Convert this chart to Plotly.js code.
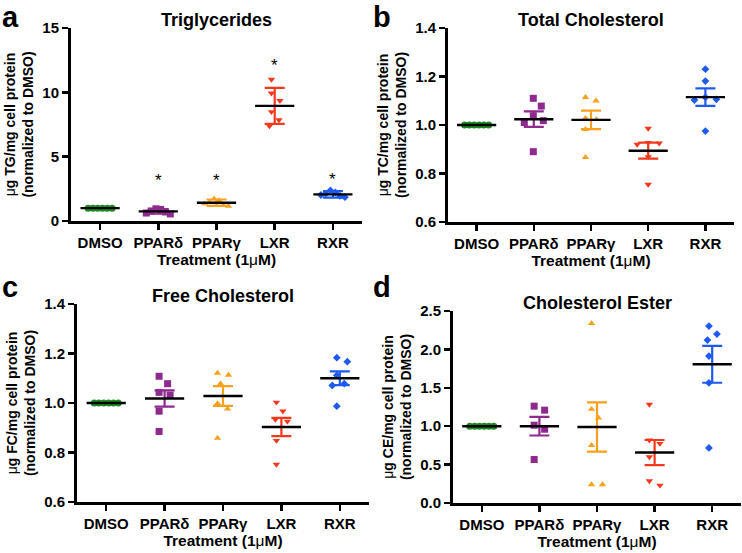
<!DOCTYPE html>
<html><head><meta charset="utf-8">
<script src="https://cdn.plot.ly/plotly-3.0.1.min.js"></script>
<style>html,body{margin:0;padding:0;background:#fff}#chart{width:742px;height:553px}</style>
</head><body><div id="chart"></div>
<script>
// ---------- data ----------
const categories = ['DMSO', 'PPARδ', 'PPARγ', 'LXR', 'RXR'];

// a: Triglycerides (error bars = SD)
const tgValues = [
  [1, 1, 1, 1, 1, 1],
  [0.95, 0.90, 0.78, 0.70, 0.62, 0.55],
  [1.72, 1.60, 1.45, 1.35, 1.22, 1.15],
  [11.0, 9.93, 9.35, 8.49, 7.85, 7.38],
  [2.38, 2.22, 2.12, 2.02, 1.95, 1.85]
];
const tgMean = [1.0, 0.75, 1.42, 8.95, 2.07];
const tgErr = [0, 0.17, 0.25, 1.4, 0.25];
const tgStars = [null, 3.45, 3.45, 12.4, 3.5];

// b: Total Cholesterol (error bars = SEM)
const tcValues = [
  [1, 1, 1, 1, 1, 1],
  [1.110, 1.078, 1.038, 1.018, 1.010, 0.890],
  [1.114, 1.100, 1.028, 1.023, 0.982, 0.867],
  [0.986, 0.927, 0.925, 0.920, 0.869, 0.755],
  [1.230, 1.181, 1.114, 1.106, 1.103, 0.975]
];
const tcMean = [1.0, 1.024, 1.021, 0.894, 1.115];
const tcErr = [0, 0.032, 0.038, 0.033, 0.036];

// c: Free Cholesterol
const fcValues = [
  [1, 1, 1, 1, 1, 1],
  [1.108, 1.078, 1.043, 1.032, 0.967, 0.885],
  [1.121, 1.113, 1.078, 0.998, 0.976, 0.858],
  [1.003, 0.967, 0.933, 0.926, 0.848, 0.752],
  [1.183, 1.167, 1.112, 1.078, 1.071, 0.987]
];
const fcMean = [1.0, 1.018, 1.028, 0.903, 1.10];
const fcErr = [0, 0.033, 0.040, 0.037, 0.028];

// d: Cholesterol Ester
const ceValues = [
  [1, 1, 1, 1, 1, 1],
  [1.261, 1.209, 1.013, 0.961, 0.566],
  [2.339, 1.222, 1.108, 0.752, 0.240, 0.240],
  [1.283, 0.817, 0.774, 0.600, 0.287, 0.231],
  [2.304, 2.200, 2.121, 1.913, 1.565, 0.717]
];
const ceMean = [1.0, 1.0, 0.99, 0.657, 1.806];
const ceErr = [0, 0.121, 0.32, 0.163, 0.24];

// ---------- styles ----------
const FONT = 'Liberation Sans, Arial, Helvetica, sans-serif';
const W = 742, H = 553;
const groupColors = ['#1c8c22', '#8e2a8e', '#f7a11f', '#f4381c', '#1f5aef'];
const groupSymbols = ['circle', 'square', 'triangle-up', 'triangle-down', 'diamond'];
const groupSizes = [7, 7, 6.5, 6.5, 6];
const MU = '<span style="font-weight:normal">μ</span>';

const panels = [
  {letter: 'a', title: 'Triglycerides', values: tgValues, mean: tgMean, err: tgErr, stars: tgStars,
   yTitle: MU + 'g TG/mg cell protein<br>(normalized to DMSO)', range: [0, 15], dtick: 5, fmt: 'd',
   dx: [71, 362], dy: [28, 221], letterPos: [1, 0]},
  {letter: 'b', title: 'Total Cholesterol', values: tcValues, mean: tcMean, err: tcErr,
   yTitle: MU + 'g TC/mg cell protein<br>(normalized to DMSO)', range: [0.6, 1.4], dtick: 0.2, fmt: '.1f',
   dx: [448, 734], dy: [28, 222], letterPos: [372, 0]},
  {letter: 'c', title: 'Free Cholesterol', values: fcValues, mean: fcMean, err: fcErr,
   yTitle: MU + 'g FC/mg cell protein<br>(normalized to DMSO)', range: [0.6, 1.4], dtick: 0.2, fmt: '.1f',
   dx: [77, 369], dy: [304, 502], letterPos: [1, 270]},
  {letter: 'd', title: 'Cholesterol Ester', values: ceValues, mean: ceMean, err: ceErr,
   yTitle: MU + 'g CE/mg cell protein<br>(normalized to DMSO)', range: [0, 2.5], dtick: 0.5, fmt: '.1f',
   dx: [453, 741], dy: [311, 503], letterPos: [372, 270]}
];

// beeswarm-style horizontal spreading computed from the values (like Prism scatter dot plots)
function swarmOffsets(vals, pxPerUnit, pxPerCat) {
  const d = 11, maxHalf = 12;
  const order = vals.map((v, i) => i).sort((a, b) => vals[b] - vals[a]);
  const placed = [];
  const dx = new Array(vals.length).fill(0);
  for (const i of order) {
    const py = vals[i] * pxPerUnit;
    let chosen = 0;
    outer:
    for (let k = 0; k < 400; k++) {
      for (const s of (k === 0 ? [1] : [1, -1])) {
        const c = s * k * 0.5;
        if (placed.every(p => (c - p.x) ** 2 + (py - p.y) ** 2 >= d * d)) { chosen = c; break outer; }
      }
    }
    dx[i] = chosen;
    placed.push({x: chosen, y: py});
  }
  const shift = (Math.max(...dx) + Math.min(...dx)) / 2;
  let out = dx.map(v => v - shift);
  const half = Math.max(...out.map(Math.abs));
  if (half > maxHalf) out = out.map(v => v * maxHalf / half);
  return out.map(v => v / pxPerCat);
}

const traces = [];
const layout = {
  width: W, height: H, margin: {l: 0, r: 0, t: 0, b: 0},
  paper_bgcolor: '#fff', plot_bgcolor: '#fff', showlegend: false,
  font: {family: FONT, color: '#000'}, annotations: []
};

panels.forEach((p, k) => {
  const sfx = k === 0 ? '' : String(k + 1);
  const xa = 'x' + sfx, ya = 'y' + sfx;
  const xDom = [p.dx[0] / W, p.dx[1] / W];
  const yDom = [1 - p.dy[1] / H, 1 - p.dy[0] / H];
  const plotHpx = p.dy[1] - p.dy[0];
  const plotWpx = p.dx[1] - p.dx[0];
  const pxPerUnit = plotHpx / (p.range[1] - p.range[0]);
  const pxPerCat = plotWpx / 5;

  // points
  p.values.forEach((vals, g) => {
    const off = swarmOffsets(vals, pxPerUnit, pxPerCat);
    traces.push({
      type: 'scatter', mode: 'markers', xaxis: xa, yaxis: ya,
      x: vals.map((v, i) => g + off[i]), y: vals,
      marker: {symbol: groupSymbols[g], size: groupSizes[g], color: groupColors[g], line: {width: 0}},
      hoverinfo: 'y'
    });
  });
  // error bars
  p.mean.forEach((m, g) => {
    traces.push({
      type: 'scatter', mode: 'markers', xaxis: xa, yaxis: ya,
      x: [g], y: [m],
      marker: {size: 1, opacity: 0},
      error_y: {type: 'data', array: [p.err[g]], visible: p.err[g] > 0, color: groupColors[g], thickness: 2.2, width: 10},
      hoverinfo: 'skip'
    });
  });
  // mean lines
  traces.push({
    type: 'scatter', mode: 'markers', xaxis: xa, yaxis: ya,
    x: p.mean.map((m, g) => g), y: p.mean,
    marker: {symbol: 'line-ew', size: 28, color: '#000', line: {width: 2.4, color: '#000'}},
    hoverinfo: 'y'
  });

  layout['xaxis' + sfx] = {
    domain: xDom, anchor: ya, range: [-0.5, 4.5],
    tickmode: 'array', tickvals: categories.map((c, i) => i), ticktext: categories,
    showline: true, linewidth: 3, linecolor: '#000',
    ticks: 'outside', ticklen: 6, tickwidth: 2.5, tickcolor: '#000',
    showgrid: false, zeroline: false, automargin: false, fixedrange: true,
    tickfont: {family: FONT, size: 15, color: '#000', weight: 'bold'},
    title: {text: 'Treatment (1' + MU + 'M)', font: {family: FONT, size: 15.5, color: '#000', weight: 'bold'}, standoff: 4}
  };
  layout['yaxis' + sfx] = {
    domain: yDom, anchor: xa, range: p.range, tickmode: 'linear', tick0: 0, dtick: p.dtick, tickformat: p.fmt,
    showline: true, linewidth: 3, linecolor: '#000',
    ticks: 'outside', ticklen: 6, tickwidth: 2.5, tickcolor: '#000',
    showgrid: false, zeroline: false, automargin: false, fixedrange: true,
    tickfont: {family: FONT, size: 15, color: '#000', weight: 'bold'},
    title: {text: p.yTitle, font: {family: FONT, size: 14, color: '#000', weight: 'bold'}, standoff: 6}
  };

  // subplot title
  layout.annotations.push({
    xref: 'paper', yref: 'paper', x: (xDom[0] + xDom[1]) / 2, y: 1 - (p.dy[0] - 8) / H,
    xanchor: 'center', yanchor: 'middle', showarrow: false,
    text: p.title, font: {family: FONT, size: 18, color: '#000', weight: 'bold'}
  });
  // panel letter
  layout.annotations.push({
    xref: 'paper', yref: 'paper', x: p.letterPos[0] / W, y: 1 - p.letterPos[1] / H,
    xanchor: 'left', yanchor: 'top', showarrow: false, borderpad: 0,
    text: p.letter, font: {family: FONT, size: 29, color: '#000', weight: 'bold'}
  });
  // significance stars
  if (p.stars) {
    p.stars.forEach((s, g) => {
      if (s === null) return;
      layout.annotations.push({
        xref: xa, yref: ya, x: g, y: s, xanchor: 'center', yanchor: 'middle', yshift: -4,
        showarrow: false, text: '*', font: {family: FONT, size: 17, color: '#000'}
      });
    });
  }
});

Plotly.newPlot('chart', traces, layout, {staticPlot: true, displayModeBar: false});
</script>
</body></html>
